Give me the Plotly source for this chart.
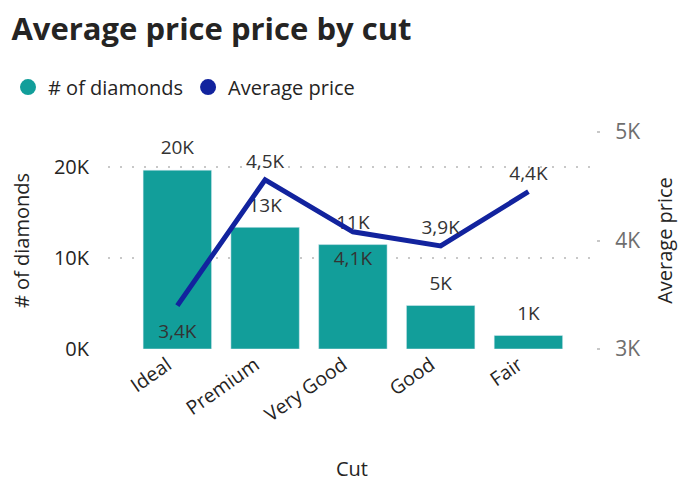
import plotly.graph_objects as go

# --- data ---
CUTS = ['Ideal', 'Premium', 'Very Good', 'Good', 'Fair']
DIAMOND_COUNT = [19700, 13400, 11500, 4800, 1500]
COUNT_LABELS = ['20K', '13K', '11K', '5K', '1K']
AVG_PRICE = [3400, 4560, 4080, 3950, 4450]
PRICE_LABELS = ['3,4K', '4,5K', '4,1K', '3,9K', '4,4K']

# label placement (Power BI moves some labels under the line to avoid overlaps)
PRICE_LABEL_POS = ['bottom center', 'top center', 'bottom center', 'top center', 'top center']
PRICE_LABEL_GAP = [28, 10, 28, 10, 10]  # invisible marker size -> label offset

TEAL = '#129E9A'
NAVY = '#12239E'
FONT = 'Open Sans'
TXT = '#252423'

fig = go.Figure()

fig.add_trace(go.Bar(
    x=CUTS, y=DIAMOND_COUNT, name='# of diamonds',
    marker_color=TEAL, width=0.78, showlegend=False,
))

# bar value labels, offset a bit above the bars via an invisible marker
fig.add_trace(go.Scatter(
    x=CUTS, y=DIAMOND_COUNT, mode='markers+text',
    marker=dict(size=16, opacity=0), text=COUNT_LABELS, textposition='top center',
    textfont=dict(size=19, color='#333333'), cliponaxis=False,
    showlegend=False, hoverinfo='skip',
))

fig.add_trace(go.Scatter(
    x=CUTS, y=AVG_PRICE, name='Average price', yaxis='y2',
    mode='lines+markers+text', line=dict(color=NAVY, width=5),
    marker=dict(size=PRICE_LABEL_GAP, opacity=0),
    text=PRICE_LABELS, textposition=PRICE_LABEL_POS,
    textfont=dict(size=19, color='#333333'),
    cliponaxis=False, showlegend=False,
))

# legend entries with round markers (Power BI style)
for name, col in [('# of diamonds', TEAL), ('Average price', NAVY)]:
    fig.add_trace(go.Scatter(
        x=[None], y=[None], mode='markers', name=name,
        marker=dict(color=col, size=20, symbol='circle'),
    ))

fig.update_layout(
    width=689, height=488,
    margin=dict(l=100, r=101, t=124, b=147),
    paper_bgcolor='white', plot_bgcolor='white',
    font=dict(family=FONT, size=18, color=TXT),
    title=dict(text='<b>Average price price by cut</b>', x=0.005, xanchor='left',
               y=0.956, yanchor='middle', yref='container',
               font=dict(size=31, color=TXT)),
    legend=dict(orientation='h', x=-0.008, xanchor='left', xref='container',
                y=0.838, yanchor='middle', yref='container',
                font=dict(size=20, color=TXT), itemwidth=30),
    xaxis=dict(range=[-0.79, 4.77], tickangle=-35, showgrid=False, zeroline=False,
               showline=False, automargin=False, ticklabelshift=-10,
               tickfont=dict(size=19.5, color=TXT),
               title=dict(text='Cut', font=dict(size=20, color=TXT), standoff=35)),
    yaxis=dict(range=[0, 23900], tickvals=[0, 10000, 20000], ticktext=['0K', '10K', '20K'],
               showgrid=True, gridcolor='#C8C8C8', griddash='2px,10px', gridwidth=2,
               zeroline=False, automargin=False, ticklabelstandoff=18,
               tickfont=dict(size=20, color=TXT),
               title=dict(text='# of diamonds', font=dict(size=20, color=TXT), standoff=19)),
    yaxis2=dict(range=[3000, 5000], overlaying='y', side='right',
                tickvals=[3000, 4000, 5000], ticktext=['3K', '4K', '5K'],
                showgrid=False, zeroline=False, ticks='outside', ticklen=3, tickwidth=2,
                tickcolor='#C8C8C8', automargin=False, ticklabelstandoff=11,
                tickfont=dict(size=21, color='#6E6E6E'),
                title=dict(text='Average price', font=dict(size=20, color=TXT), standoff=18)),
)

fig.write_html('out.html')
